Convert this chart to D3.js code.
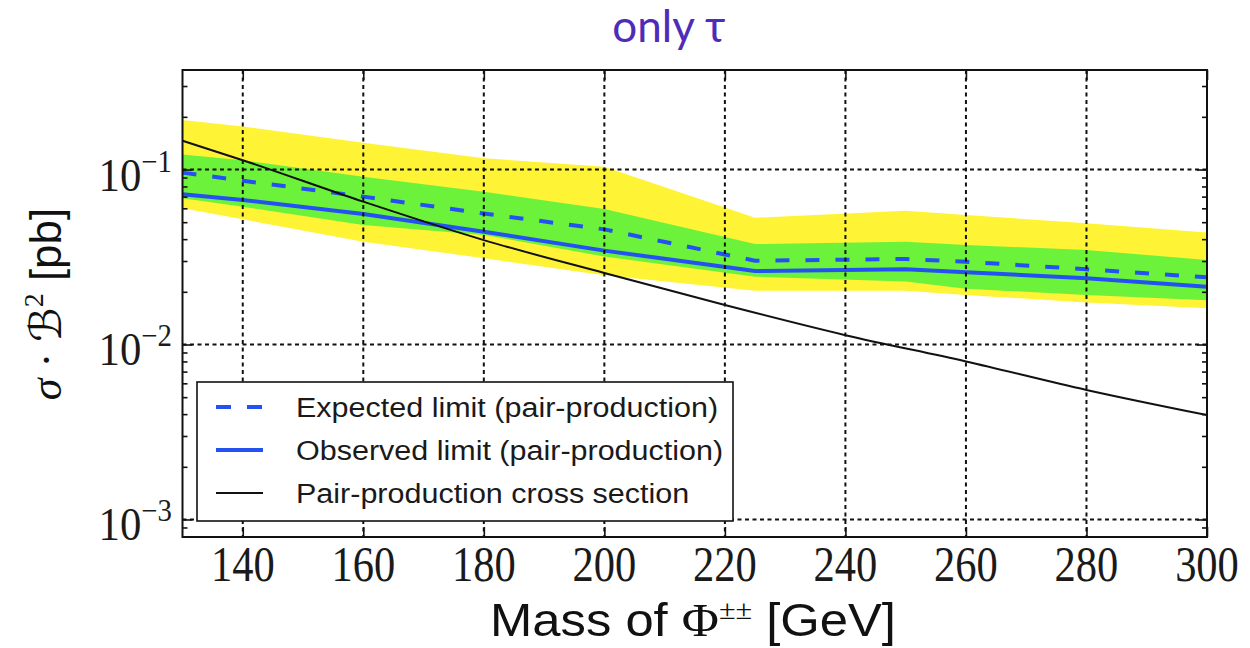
<!DOCTYPE html>
<html><head><meta charset="utf-8">
<script src="https://cdn.jsdelivr.net/npm/d3@7"></script>
<style>body{margin:0;background:#fff}svg{display:block}</style>
</head><body><svg id="c" width="1250" height="648"></svg>
<script>
// ---- data ----
const masses      = [130, 140, 160, 180, 200, 225, 250, 260, 280, 300];
const expected    = [0.096, 0.0863, 0.070, 0.056, 0.0455, 0.0301, 0.0308, 0.0297, 0.0269, 0.0242];
const observed    = [0.0722, 0.067, 0.0557, 0.0441, 0.0344, 0.0263, 0.0269, 0.0259, 0.0239, 0.0214];
const band1Up     = [0.122, 0.113, 0.091, 0.0747, 0.0595, 0.0375, 0.0387, 0.037, 0.0347, 0.0304];
const band1Down   = [0.0684, 0.0613, 0.0482, 0.0423, 0.0318, 0.0244, 0.0229, 0.0208, 0.0192, 0.0179];
const band2Up     = [0.192, 0.176, 0.142, 0.116, 0.1038, 0.053, 0.0582, 0.055, 0.0493, 0.0436];
const band2Down   = [0.060, 0.0519, 0.0387, 0.0311, 0.0249, 0.0203, 0.0203, 0.0192, 0.0174, 0.0161];
const xsMass      = [130, 140, 160, 180, 200, 220, 240, 260, 280, 300];
const xsValues    = [0.146, 0.113, 0.0655, 0.0395, 0.0256, 0.0168, 0.0113, 0.0080, 0.0055, 0.00395];
const xTicks      = [140, 160, 180, 200, 220, 240, 260, 280, 300];
const yTicks      = [1e-3, 1e-2, 1e-1];
const yTickExp    = ["−3", "−2", "−1"];
const legendLabels = ["Expected limit (pair-production)", "Observed limit (pair-production)", "Pair-production cross section"];
const titleText   = "only τ";

// ---- layout ----
const L = 182.5, R = 1207, T = 70, B = 537;
const svg = d3.select("#c");
const x = d3.scaleLinear().domain([130, 300]).range([L, R]);
const y = d3.scaleLog().domain([7.94e-4, 0.3704]).range([B, T]);

const YELLOW = "#fff335", GREEN = "#6cf23a", BLUE = "#2452f2";

svg.append("defs").append("clipPath").attr("id", "clip")
  .append("rect").attr("x", L).attr("y", T).attr("width", R - L).attr("height", B - T);

const g = svg.append("g").attr("clip-path", "url(#clip)");
const idx = d3.range(masses.length);

const area = (up, down) => d3.area().x(i => x(masses[i])).y0(i => y(down[i])).y1(i => y(up[i]));
g.append("path").datum(idx).attr("d", area(band2Up, band2Down)).attr("fill", YELLOW);
g.append("path").datum(idx).attr("d", area(band1Up, band1Down)).attr("fill", GREEN);

const line = vals => d3.line().x(i => x(masses[i])).y(i => y(vals[i]));
g.append("path").datum(idx).attr("d", line(observed)).attr("fill", "none")
  .attr("stroke", BLUE).attr("stroke-width", 4);
g.append("path").datum(idx).attr("d", line(expected)).attr("fill", "none")
  .attr("stroke", BLUE).attr("stroke-width", 4).attr("stroke-dasharray", "14,16");

g.append("path").datum(d3.range(xsMass.length))
  .attr("d", d3.line().x(i => x(xsMass[i])).y(i => y(xsValues[i])).curve(d3.curveMonotoneX))
  .attr("fill", "none").attr("stroke", "#111").attr("stroke-width", 2);

// grid (drawn above data)
const grid = svg.append("g").attr("stroke", "#111").attr("stroke-width", 2).attr("stroke-dasharray", "4,3.5");
grid.selectAll(".vg").data(xTicks.filter(v => v < 300)).join("line")
  .attr("x1", d => x(d)).attr("x2", d => x(d)).attr("y1", T).attr("y2", B);
grid.selectAll(".hg").data(yTicks).join("line")
  .attr("x1", L).attr("x2", R).attr("y1", d => y(d)).attr("y2", d => y(d));

// ticks (inside, all four sides)
const minorY = [];
[-4, -3, -2, -1].forEach(e => { for (let k = 2; k <= 9; k++) { const v = k * Math.pow(10, e); if (v > 7.94e-4 && v < 0.3704) minorY.push(v); } });
function styleAxis(sel) { sel.select(".domain").remove(); sel.selectAll("line").attr("stroke", "#111").attr("stroke-width", 1.6); sel.selectAll("text").remove(); }
svg.append("g").attr("transform", `translate(0,${B})`).call(d3.axisBottom(x).tickValues(xTicks).tickSize(-10).tickFormat("")).call(styleAxis);
svg.append("g").attr("transform", `translate(0,${T})`).call(d3.axisTop(x).tickValues(xTicks).tickSize(-10).tickFormat("")).call(styleAxis);
svg.append("g").attr("transform", `translate(${L},0)`).call(d3.axisLeft(y).tickValues(yTicks).tickSize(-10).tickFormat("")).call(styleAxis);
svg.append("g").attr("transform", `translate(${L},0)`).call(d3.axisLeft(y).tickValues(minorY).tickSize(-5).tickFormat("")).call(styleAxis);
svg.append("g").attr("transform", `translate(${R},0)`).call(d3.axisRight(y).tickValues(yTicks).tickSize(-10).tickFormat("")).call(styleAxis);
svg.append("g").attr("transform", `translate(${R},0)`).call(d3.axisRight(y).tickValues(minorY).tickSize(-5).tickFormat("")).call(styleAxis);

// legend
const lg = svg.append("g");
lg.append("rect").attr("x", 197).attr("y", 382).attr("width", 536).attr("height", 139)
  .attr("fill", "#fff").attr("stroke", "#111").attr("stroke-width", 1.6);
const rowY = [407, 450, 493];
const legStyles = [
  { stroke: BLUE, w: 4, dash: "15,16" },
  { stroke: BLUE, w: 4, dash: null },
  { stroke: "#111", w: 2, dash: null }
];
legendLabels.forEach((t, i) => {
  lg.append("line").attr("x1", 216).attr("x2", 263).attr("y1", rowY[i]).attr("y2", rowY[i])
    .attr("stroke", legStyles[i].stroke).attr("stroke-width", legStyles[i].w)
    .attr("stroke-dasharray", legStyles[i].dash);
  lg.append("text").attr("transform", `translate(296,${rowY[i] + 10}) scale(1.09,1)`)
    .attr("font-family", "'Liberation Sans', Arial, sans-serif").attr("font-size", 28)
    .attr("fill", "#1a1a1a").text(t);
});

// frame
svg.append("rect").attr("x", L).attr("y", T).attr("width", R - L).attr("height", B - T)
  .attr("fill", "none").attr("stroke", "#111").attr("stroke-width", 2);

// x tick labels
svg.append("g").selectAll("text").data(xTicks).join("text")
  .attr("transform", d => `translate(${x(d)},581) scale(0.85,1)`)
  .attr("text-anchor", "middle").attr("font-family", "'Liberation Serif', 'DejaVu Serif', serif")
  .attr("font-size", 50).attr("fill", "#1a1a1a").text(d => d);

// y tick labels
yTicks.forEach((v, i) => {
  const t = svg.append("text")
    .attr("transform", `translate(172,${y(v) + 21}) scale(0.93,1)`)
    .attr("text-anchor", "end").attr("font-family", "'Liberation Serif', 'DejaVu Serif', serif")
    .attr("font-size", 46).attr("fill", "#1a1a1a");
  t.append("tspan").text("10");
  t.append("tspan").attr("font-size", 31).attr("dy", -19).text(yTickExp[i]);
});

// x axis title
const xt = svg.append("text").attr("transform", "translate(693,636) scale(1.08,1)").attr("text-anchor", "middle")
  .attr("font-family", "'Liberation Sans', Arial, sans-serif").attr("font-size", 47).attr("fill", "#111");
xt.append("tspan").text("Mass of ");
xt.append("tspan").attr("font-family", "'Liberation Serif', 'DejaVu Serif', serif").text("Φ");
xt.append("tspan").attr("font-family", "'Liberation Serif', 'DejaVu Serif', serif").attr("font-size", 28).attr("dy", -17).text("±±");
xt.append("tspan").attr("dy", 17).text(" [GeV]");

// y axis title
const yt = svg.append("text").attr("transform", "translate(61,304) rotate(-90)").attr("text-anchor", "middle")
  .attr("font-family", "'Liberation Serif', 'DejaVu Serif', serif").attr("font-size", 44).attr("fill", "#111");
yt.append("tspan").attr("font-style", "italic").text("σ");
yt.append("tspan").text(" · ");
yt.append("tspan").attr("font-family", "'DejaVu Sans', sans-serif").attr("font-style", "italic").text("ℬ");
yt.append("tspan").attr("font-size", 28).attr("dy", -18).text("2");
yt.append("tspan").attr("dy", 18).attr("font-family", "'Liberation Sans', Arial, sans-serif").text(" [pb]");

// title
svg.append("text").attr("x", 669).attr("y", 42).attr("text-anchor", "middle")
  .attr("font-family", "Lato, 'Open Sans', sans-serif").attr("font-size", 44)
  .attr("fill", "#4e2cb8").text(titleText);
</script></body></html>
